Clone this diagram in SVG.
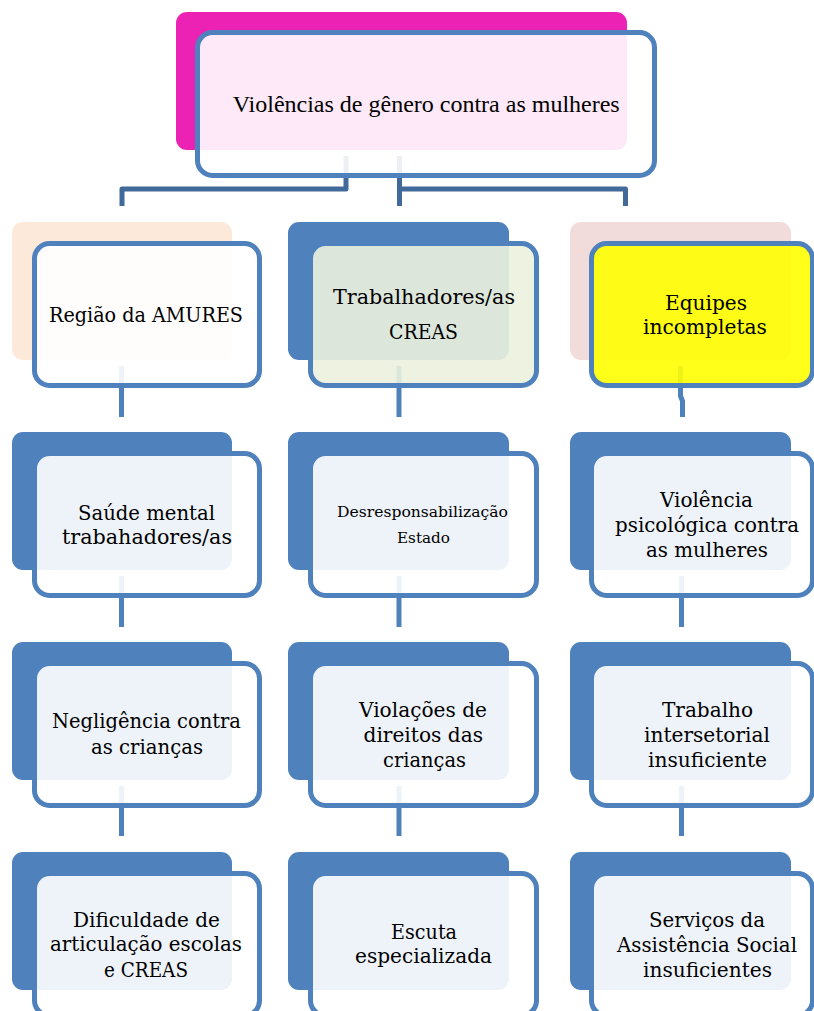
<svg xmlns="http://www.w3.org/2000/svg" width="814" height="1011" viewBox="0 0 814 1011">
<style>
.bk{fill:#4F81BD}
.fr{fill:#FFFFFF;fill-opacity:0.9;stroke:#4F81BD;stroke-width:5}
.t{font-family:"DejaVu Serif","Liberation Serif",serif;font-size:21px;fill:#000}
.ts{font-family:"DejaVu Serif","Liberation Serif",serif;font-size:15px;fill:#000}
.tt{font-family:"Liberation Serif","Times New Roman",serif;font-size:24px;fill:#000}
.c0{fill:none;stroke:#41699A;stroke-width:5;stroke-linejoin:round}
.c1{fill:none;stroke:#4F81BD;stroke-width:5}
</style>
<rect width="814" height="1011" fill="#FFFFFF"/>
<g id="connectors">
<path class="c0" d="M346,156 V189 H122 V206"/>
<path class="c0" d="M399.5,156 V206"/>
<path class="c0" d="M399.5,189 H625.5 V206"/>
<path class="c1" d="M121.5,366 V417"/>
<path class="c1" d="M121.5,576 V627"/>
<path class="c1" d="M121.5,786 V836"/>
<path class="c1" d="M399,366 V417"/>
<path class="c1" d="M399,576 V627"/>
<path class="c1" d="M399,786 V836"/>
<path class="c1" d="M680.5,366 V396 L682.5,401 V417"/>
<path class="c1" d="M681.5,576 V627"/>
<path class="c1" d="M681.5,786 V836"/>
</g>
<g id="node-top">
<rect x="176" y="12" width="451" height="138" rx="11" fill="#EC22B5"/>
<rect class="fr" x="197.5" y="32.5" width="457" height="143" rx="15"/>
<text class="tt" x="232.7" y="112" textLength="387" lengthAdjust="spacingAndGlyphs">Violências de gênero contra as mulheres</text>
</g>
<g id="node-amures">
<rect x="12" y="222" width="220" height="138" rx="11" fill="#FDE9D9"/>
<rect class="fr" x="34.5" y="243.5" width="225" height="142" rx="15"/>
<text class="t" x="49" y="322" textLength="194" lengthAdjust="spacingAndGlyphs">Região da AMURES</text>
</g>
<g id="node-trabalhadores">
<rect class="bk" x="288" y="222" width="221" height="138" rx="11"/>
<rect class="fr" x="310.5" y="243.5" width="226" height="142" rx="15" style="fill:#EBF1DE"/>
<text class="t" x="333" y="304" textLength="182" lengthAdjust="spacingAndGlyphs">Trabalhadores/as</text>
<text class="t" x="389" y="339" textLength="69" lengthAdjust="spacingAndGlyphs">CREAS</text>
</g>
<g id="node-equipes">
<rect x="570" y="222" width="221" height="138" rx="11" fill="#F2DCDB"/>
<rect class="fr" x="591.5" y="243.5" width="221" height="142" rx="15" style="fill:#FFFF00"/>
<text class="t" x="665" y="310" textLength="82" lengthAdjust="spacingAndGlyphs">Equipes</text>
<text class="t" x="643" y="334" textLength="124" lengthAdjust="spacingAndGlyphs">incompletas</text>
</g>
<g id="node-saude">
<rect class="bk" x="12" y="432" width="220" height="138" rx="11"/>
<rect class="fr" x="34.5" y="453.5" width="225" height="142" rx="15"/>
<text class="t" x="78" y="520" textLength="137" lengthAdjust="spacingAndGlyphs">Saúde mental</text>
<text class="t" x="62" y="544" textLength="170" lengthAdjust="spacingAndGlyphs">trabahadores/as</text>
</g>
<g id="node-desresp">
<rect class="bk" x="288" y="432" width="221" height="138" rx="11"/>
<rect class="fr" x="310.5" y="453.5" width="226" height="142" rx="15"/>
<text class="ts" x="337" y="517" textLength="171" lengthAdjust="spacingAndGlyphs">Desresponsabilização</text>
<text class="ts" x="397" y="543" textLength="53" lengthAdjust="spacingAndGlyphs">Estado</text>
</g>
<g id="node-violencia-psic">
<rect class="bk" x="570" y="432" width="221" height="138" rx="11"/>
<rect class="fr" x="591.5" y="453.5" width="221" height="142" rx="15"/>
<text class="t" x="660" y="507" textLength="93" lengthAdjust="spacingAndGlyphs">Violência</text>
<text class="t" x="615" y="532" textLength="184" lengthAdjust="spacingAndGlyphs">psicológica contra</text>
<text class="t" x="646" y="557" textLength="122" lengthAdjust="spacingAndGlyphs">as mulheres</text>
</g>
<g id="node-negligencia">
<rect class="bk" x="12" y="642" width="220" height="138" rx="11"/>
<rect class="fr" x="34.5" y="663.5" width="225" height="142" rx="15"/>
<text class="t" x="52" y="728" textLength="189" lengthAdjust="spacingAndGlyphs">Negligência contra</text>
<text class="t" x="91" y="754" textLength="112" lengthAdjust="spacingAndGlyphs">as crianças</text>
</g>
<g id="node-violacoes">
<rect class="bk" x="288" y="642" width="221" height="138" rx="11"/>
<rect class="fr" x="310.5" y="663.5" width="226" height="142" rx="15"/>
<text class="t" x="359" y="717" textLength="128" lengthAdjust="spacingAndGlyphs">Violações de</text>
<text class="t" x="363.5" y="742" textLength="119.5" lengthAdjust="spacingAndGlyphs">direitos das</text>
<text class="t" x="383" y="767" textLength="83" lengthAdjust="spacingAndGlyphs">crianças</text>
</g>
<g id="node-intersetorial">
<rect class="bk" x="570" y="642" width="221" height="138" rx="11"/>
<rect class="fr" x="591.5" y="663.5" width="221" height="142" rx="15"/>
<text class="t" x="662" y="717" textLength="91" lengthAdjust="spacingAndGlyphs">Trabalho</text>
<text class="t" x="644" y="742" textLength="126" lengthAdjust="spacingAndGlyphs">intersetorial</text>
<text class="t" x="648" y="767" textLength="119" lengthAdjust="spacingAndGlyphs">insuficiente</text>
</g>
<g id="node-dificuldade">
<rect class="bk" x="12" y="852" width="220" height="138" rx="11"/>
<rect class="fr" x="34.5" y="873.5" width="225" height="142" rx="15"/>
<text class="t" x="73" y="927" textLength="147" lengthAdjust="spacingAndGlyphs">Dificuldade de</text>
<text class="t" x="50" y="951" textLength="192" lengthAdjust="spacingAndGlyphs">articulação escolas</text>
<text class="t" x="104" y="977" textLength="84" lengthAdjust="spacingAndGlyphs">e CREAS</text>
</g>
<g id="node-escuta">
<rect class="bk" x="288" y="852" width="221" height="138" rx="11"/>
<rect class="fr" x="310.5" y="873.5" width="226" height="142" rx="15"/>
<text class="t" x="391" y="939" textLength="66" lengthAdjust="spacingAndGlyphs">Escuta</text>
<text class="t" x="355" y="963" textLength="137" lengthAdjust="spacingAndGlyphs">especializada</text>
</g>
<g id="node-servicos">
<rect class="bk" x="570" y="852" width="221" height="138" rx="11"/>
<rect class="fr" x="591.5" y="873.5" width="221" height="142" rx="15"/>
<text class="t" x="649" y="927" textLength="116" lengthAdjust="spacingAndGlyphs">Serviços da</text>
<text class="t" x="617" y="952" textLength="180" lengthAdjust="spacingAndGlyphs">Assistência Social</text>
<text class="t" x="643" y="977" textLength="129" lengthAdjust="spacingAndGlyphs">insuficientes</text>
</g>
</svg>
